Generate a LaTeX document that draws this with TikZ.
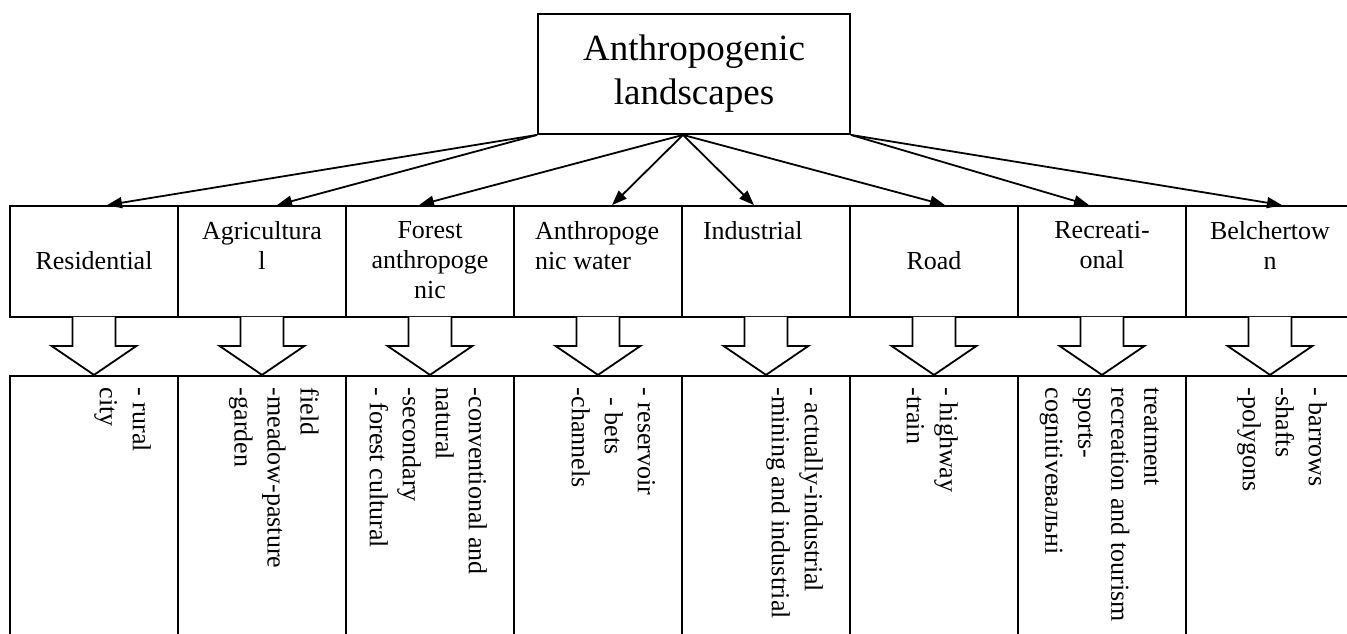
\documentclass[tikz,border=0pt]{standalone}
\usepackage{fontspec}
\setmainfont{Liberation Serif}
\usetikzlibrary{arrows.meta, positioning}

\begin{document}
\begin{tikzpicture}[x=0.5pt, y=-0.5pt, node distance=84pt, on grid,
      >={Triangle[length=7.5pt,width=5.5pt]}, line width=0.9pt,
      every node/.style={inner sep=0pt},
      catbox/.style={draw, minimum width=84pt, minimum height=55.5pt},
      catlabel/.style={font=\fontsize{13}{15}\selectfont, align=center, anchor=north},
      itembox/.style={draw, minimum width=84pt, minimum height=150pt, anchor=north},
      itemlist/.style={font=\fontsize{13}{16.5}\selectfont, align=left, rotate=-90, anchor=north west}]
      \useasboundingbox (0,0) rectangle (1347,633);
      % root
      \node[draw, minimum width=156pt, minimum height=60pt, align=center,
            font=\fontsize{18.5}{22}\selectfont] (land) at (694,74) {Anthropogenic\\landscapes};
      \coordinate (hub) at ([xshift=-5.5pt]land.south);
      % categories
      \node[catbox] (res) at (94,261.5) {};
      \node[catbox, right=of res] (agr) {};
      \node[catbox, right=of agr] (forest) {};
      \node[catbox, right=of forest] (water) {};
      \node[catbox, right=of water] (ind) {};
      \node[catbox, right=of ind] (road) {};
      \node[catbox, right=of road] (rec) {};
      \node[catbox, right=of rec] (bel) {};
      \node[catlabel] (res-t) at ([yshift=-22.5pt]res.north) {Residential};
      \node[catlabel] (agr-t) at ([yshift=-7.5pt]agr.north) {Agricultura\\l};
      \node[catlabel] (forest-t) at ([yshift=-7.5pt]forest.north) {Forest\\anthropoge\\nic};
      \node[catlabel, align=left, anchor=north west] (water-t) at ([xshift=10.5pt,yshift=-7.5pt]water.north west) {Anthropoge\\nic water};
      \node[catlabel, anchor=north west] (ind-t) at ([xshift=10.5pt,yshift=-7.5pt]ind.north west) {Industrial};
      \node[catlabel] (road-t) at ([yshift=-22.5pt]road.north) {Road};
      \node[catlabel] (rec-t) at ([yshift=-7.5pt]rec.north) {Recreati-\\onal};
      \node[catlabel] (bel-t) at ([yshift=-7.5pt]bel.north) {Belchertow\\n};
      % arrows from the root
      \draw[->] (land.south west) -- ([xshift=6.5pt]res.north);
      \draw[->] (land.south west) -- ([xshift=7.5pt]agr.north);
      \draw[->] (hub) -- ([xshift=-5.5pt]forest.north);
      \draw[->] (hub) -- ([xshift=7pt]water.north);
      \draw[->] (hub) -- ([xshift=-6pt]ind.north);
      \draw[->] (hub) -- ([xshift=5.5pt]road.north);
      \draw[->] (land.south east) -- ([xshift=-6.5pt]rec.north);
      \draw[->] (land.south east) -- ([xshift=6pt]bel.north);
      % block arrows and lists
      \foreach \b in {res,agr,forest,water,ind,road,rec,bel} {
        \filldraw[fill=white] ([xshift=-10.75pt,yshift=0.5pt]\b.south) -- ++(0,29) -- ++(-21,0)
          -- ++(42.5,29) -- ++(42.5,-29) -- ++(-21,0) -- ++(0,-29);
        \node[itembox] (\b-l) at ([yshift=-28.5pt]\b.south) {};
      }
      \node[itemlist] (res-x) at ([xshift=-13.5pt,yshift=-6pt]res-l.north east) {- rural\\city};
      \node[itemlist] (agr-x) at ([xshift=-13.5pt,yshift=-6pt]agr-l.north east) {field\\-meadow-pasture\\-garden};
      \node[itemlist] (forest-x) at ([xshift=-13.5pt,yshift=-6pt]forest-l.north east) {-conventional and\\natural\\-secondary\\- forest cultural};
      \node[itemlist] (water-x) at ([xshift=-13.5pt,yshift=-6pt]water-l.north east) {- reservoir\\\hspace*{5pt}- bets\\-channels};
      \node[itemlist] (ind-x) at ([xshift=-13.5pt,yshift=-6pt]ind-l.north east) {- actually-industrial\\-mining and industrial};
      \node[itemlist] (road-x) at ([xshift=-30pt,yshift=-6pt]road-l.north east) {- highway\\-train};
      \node[itemlist] (rec-x) at ([xshift=-13.5pt,yshift=-6pt]rec-l.north east) {treatment\\recreation and tourism\\sports-\\cognitiveвальні};
      \node[itemlist] (bel-x) at ([xshift=-13.5pt,yshift=-6pt]bel-l.north east) {- barrows\\-shafts\\-polygons};
    \end{tikzpicture}
\end{document}
